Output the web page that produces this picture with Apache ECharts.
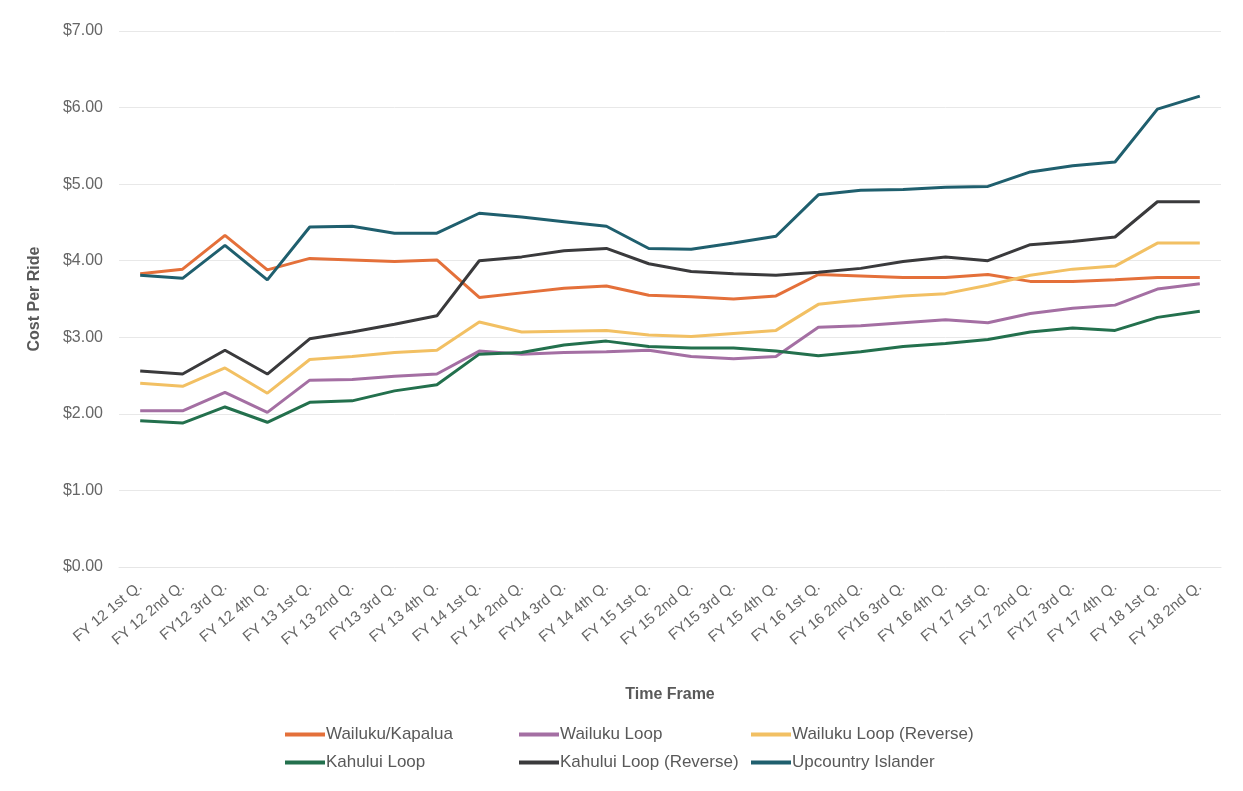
<!DOCTYPE html>
<html>
<head>
<meta charset="utf-8">
<script src="https://cdn.jsdelivr.net/npm/echarts@6/dist/echarts.min.js"></script>
<style>
  html, body { margin: 0; padding: 0; background: #ffffff; }
  #chart { width: 1243px; height: 791px; }
</style>
</head>
<body>
<div id="chart"></div>
<script>
const quarters = [
  'FY 12 1st Q.', 'FY 12 2nd Q.', 'FY12 3rd Q.', 'FY 12 4th Q.',
  'FY 13 1st Q.', 'FY 13 2nd Q.', 'FY13 3rd Q.', 'FY 13 4th Q.',
  'FY 14 1st Q.', 'FY 14 2nd Q.', 'FY14 3rd Q.', 'FY 14 4th Q.',
  'FY 15 1st Q.', 'FY 15 2nd Q.', 'FY15 3rd Q.', 'FY 15 4th Q.',
  'FY 16 1st Q.', 'FY 16 2nd Q.', 'FY16 3rd Q.', 'FY 16 4th Q.',
  'FY 17 1st Q.', 'FY 17 2nd Q.', 'FY17 3rd Q.', 'FY 17 4th Q.',
  'FY 18 1st Q.', 'FY 18 2nd Q.'
]

const wailukuKapalua = [3.83, 3.89, 4.33, 3.88, 4.03, 4.01, 3.99, 4.01, 3.52, 3.58, 3.64, 3.67, 3.55, 3.53, 3.50, 3.54, 3.82, 3.80, 3.78, 3.78, 3.82, 3.73, 3.73, 3.75, 3.78, 3.78]
const wailukuLoop = [2.04, 2.04, 2.28, 2.02, 2.44, 2.45, 2.49, 2.52, 2.82, 2.78, 2.80, 2.81, 2.83, 2.75, 2.72, 2.75, 3.13, 3.15, 3.19, 3.23, 3.19, 3.31, 3.38, 3.42, 3.63, 3.70]
const wailukuLoopRev = [2.40, 2.36, 2.60, 2.27, 2.71, 2.75, 2.80, 2.83, 3.20, 3.07, 3.08, 3.09, 3.03, 3.01, 3.05, 3.09, 3.43, 3.49, 3.54, 3.57, 3.68, 3.81, 3.89, 3.93, 4.23, 4.23]
const kahuluiLoop = [1.91, 1.88, 2.09, 1.89, 2.15, 2.17, 2.30, 2.38, 2.78, 2.80, 2.90, 2.95, 2.88, 2.86, 2.86, 2.82, 2.76, 2.81, 2.88, 2.92, 2.97, 3.07, 3.12, 3.09, 3.26, 3.34]
const kahuluiLoopRev = [2.56, 2.52, 2.83, 2.52, 2.98, 3.07, 3.17, 3.28, 4.00, 4.05, 4.13, 4.16, 3.96, 3.86, 3.83, 3.81, 3.85, 3.90, 3.99, 4.05, 4.00, 4.21, 4.25, 4.31, 4.77, 4.77]
const upcountry = [3.81, 3.77, 4.20, 3.75, 4.44, 4.45, 4.36, 4.36, 4.62, 4.57, 4.51, 4.45, 4.16, 4.15, 4.23, 4.32, 4.86, 4.92, 4.93, 4.96, 4.97, 5.16, 5.24, 5.29, 5.98, 6.15]

const yTicks = [0, 1, 2, 3, 4, 5, 6, 7]

const seriesList = [
  { name: 'Wailuku/Kapalua', data: wailukuKapalua, color: '#e4703a' },
  { name: 'Wailuku Loop', data: wailukuLoop, color: '#a46fa3' },
  { name: 'Wailuku Loop (Reverse)', data: wailukuLoopRev, color: '#f2c063' },
  { name: 'Kahului Loop', data: kahuluiLoop, color: '#23704d' },
  { name: 'Kahului Loop (Reverse)', data: kahuluiLoopRev, color: '#3a3a3c' },
  { name: 'Upcountry Islander', data: upcountry, color: '#1f5f6e' }
]

const textColor = '#595959'
const labelColor = '#666666'
const fontFamily = 'Liberation Sans, Arial, sans-serif'

const legendBase = {
  orient: 'vertical',
  top: 721,
  itemGap: 11,
  itemWidth: 40,
  itemHeight: 4,
  icon: 'rect',
  selectedMode: false,
  textStyle: { color: textColor, fontSize: 17, fontFamily: fontFamily, padding: [0, 0, 0, -4] }
}

const chart = echarts.init(document.getElementById('chart'))

chart.setOption({
  animation: false,
  backgroundColor: '#ffffff',
  textStyle: { fontFamily: fontFamily },
  grid: { left: 119, right: 22, top: 31, bottom: 224 },
  legend: [
    Object.assign({}, legendBase, { left: 280, data: ['Wailuku/Kapalua', 'Kahului Loop'] }),
    Object.assign({}, legendBase, { left: 514, data: ['Wailuku Loop', 'Kahului Loop (Reverse)'] }),
    Object.assign({}, legendBase, { left: 746, data: ['Wailuku Loop (Reverse)', 'Upcountry Islander'] })
  ],
  xAxis: {
    type: 'category',
    data: quarters,
    boundaryGap: true,
    name: 'Time Frame',
    nameLocation: 'middle',
    nameGap: 120,
    nameTextStyle: { color: textColor, fontSize: 16, fontWeight: 'bold' },
    axisLine: { show: true, lineStyle: { color: '#e6e6e6' } },
    axisTick: { show: false },
    axisLabel: {
      interval: 0,
      rotate: 40,
      margin: 18,
      color: labelColor,
      fontSize: 15
    },
    splitLine: { show: false }
  },
  yAxis: {
    type: 'value',
    min: 0,
    max: 7,
    interval: 1,
    name: 'Cost Per Ride',
    nameLocation: 'middle',
    nameGap: 76,
    nameRotate: 90,
    nameTextStyle: { color: textColor, fontSize: 16, fontWeight: 'bold' },
    axisLine: { show: false },
    axisTick: { show: false },
    axisLabel: {
      color: labelColor,
      fontSize: 16,
      margin: 16,
      formatter: (v) => yTicks.includes(v) ? '$' + v.toFixed(2) : ''
    },
    splitLine: { lineStyle: { color: '#e8e8e8', width: 1 } }
  },
  series: seriesList.map((s) => ({
    name: s.name,
    type: 'line',
    data: s.data,
    showSymbol: false,
    symbol: 'none',
    lineStyle: { color: s.color, width: 3 },
    itemStyle: { color: s.color }
  }))
})
</script>
</body>
</html>
